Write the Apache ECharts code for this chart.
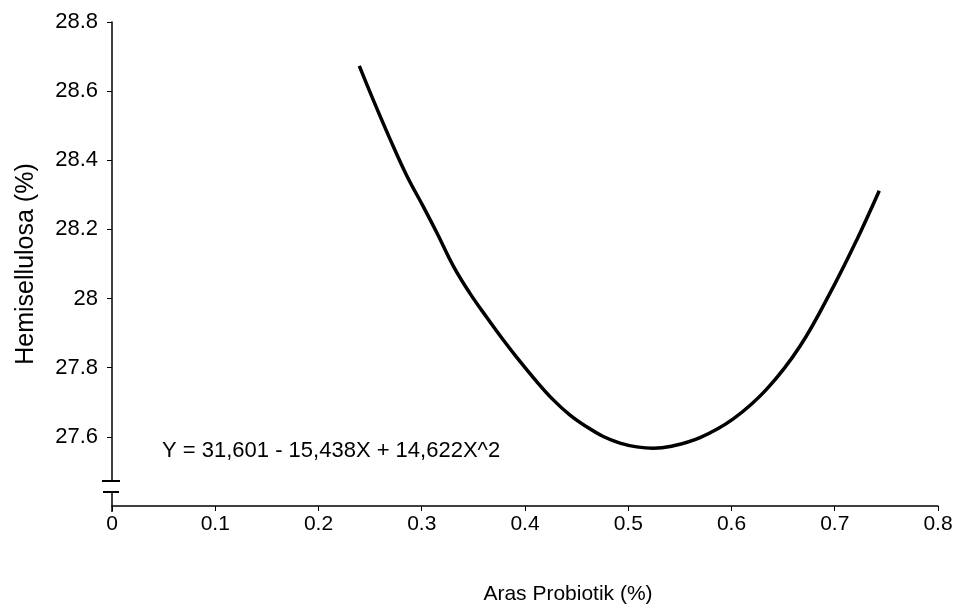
<!DOCTYPE html>
<html>
<head>
<meta charset="utf-8">
<script src="https://cdn.jsdelivr.net/npm/echarts@6/dist/echarts.min.js"></script>
<style>html,body{margin:0;padding:0;background:#fff}#chart{width:960px;height:614px}</style>
</head>
<body>
<div id="chart"></div>
<script>
// Fitted curve: x = Aras Probiotik (%), y = Hemisellulosa (%)
const curveX = [0.2395,0.2531,0.2692,0.2854,0.3015,0.3145,0.3306,0.3467,0.3629,0.3790,0.3920,0.4113,0.4274,0.4436,0.4598,0.4758,0.4920,0.5082,0.5243,0.5404,0.5695,0.6017,0.6341,0.6663,0.6986,0.7212,0.7431];
const curveY = [28.673,28.574,28.462,28.356,28.266,28.191,28.094,28.015,27.946,27.880,27.830,27.760,27.707,27.663,27.629,27.601,27.582,27.571,27.567,27.572,27.598,27.652,27.738,27.862,28.034,28.169,28.312];
const xTicks = [0,0.1,0.2,0.3,0.4,0.5,0.6,0.7,0.8];
const yTicks = [27.6,27.8,28,28.2,28.4,28.6,28.8];
const equation = 'Y = 31,601 - 15,438X + 14,622X^2';
const xTitle = 'Aras Probiotik (%)';
const yTitle = 'Hemisellulosa (%)';

const FONT = 'Liberation Sans, Arial, sans-serif';
const chart = echarts.init(document.getElementById('chart'));
const data = curveX.map((x, i) => [x, curveY[i]]);

chart.setOption({
  animation: false,
  backgroundColor: '#fff',
  grid: { left: 112, right: 22, top: 22, bottom: 108 },
  xAxis: {
    type: 'value', min: 0, max: 0.8, interval: 0.1,
    name: xTitle, nameLocation: 'middle', nameGap: 78,
    nameTextStyle: { color: '#000', fontSize: 21, fontFamily: FONT, padding: [0, 0, 0, 86] },
    axisLine: { show: true, lineStyle: { color: '#000', width: 1.5 } },
    axisTick: { show: true, length: 5, lineStyle: { color: '#000' }, customValues: xTicks },
    axisLabel: { color: '#000', fontSize: 21, fontFamily: FONT, margin: 8, customValues: xTicks,
      formatter: v => String(Math.round(v * 10) / 10) },
    splitLine: { show: false }
  },
  yAxis: {
    type: 'value', min: 27.4, max: 28.8, interval: 0.2,
    name: yTitle, nameLocation: 'middle', nameGap: 73, nameRotate: 90,
    nameTextStyle: { color: '#000', fontSize: 25, fontFamily: FONT },
    axisLine: { show: true, lineStyle: { color: '#000', width: 1.5 } },
    axisTick: { show: true, length: 5, lineStyle: { color: '#000' }, customValues: yTicks },
    axisLabel: { color: '#000', fontSize: 22, fontFamily: FONT, margin: 14, customValues: yTicks,
      formatter: v => String(Math.round(v * 10) / 10) },
    splitLine: { show: false }
  },
  series: [{
    type: 'line', data: data, smooth: 0.4, showSymbol: false, symbol: 'none',
    lineStyle: { color: '#000', width: 3.5 }
  }],
  graphic: [
    { type: 'text', left: 162, top: 440, style: { text: equation, fill: '#000', fontSize: 22, fontFamily: FONT } },
    // axis break marks on the y axis
    { type: 'rect', shape: { x: 104, y: 482, width: 16, height: 9 }, style: { fill: '#fff' }, z: 100 },
    { type: 'line', shape: { x1: 102, y1: 481, x2: 120, y2: 481 }, style: { stroke: '#000', lineWidth: 2 }, z: 101 },
    { type: 'line', shape: { x1: 103, y1: 492, x2: 119, y2: 492 }, style: { stroke: '#000', lineWidth: 2 }, z: 101 },
    { type: 'line', shape: { x1: 112, y1: 506, x2: 112, y2: 512 }, style: { stroke: '#000', lineWidth: 1.5 }, z: 101 }
  ]
});
</script>
</body>
</html>
